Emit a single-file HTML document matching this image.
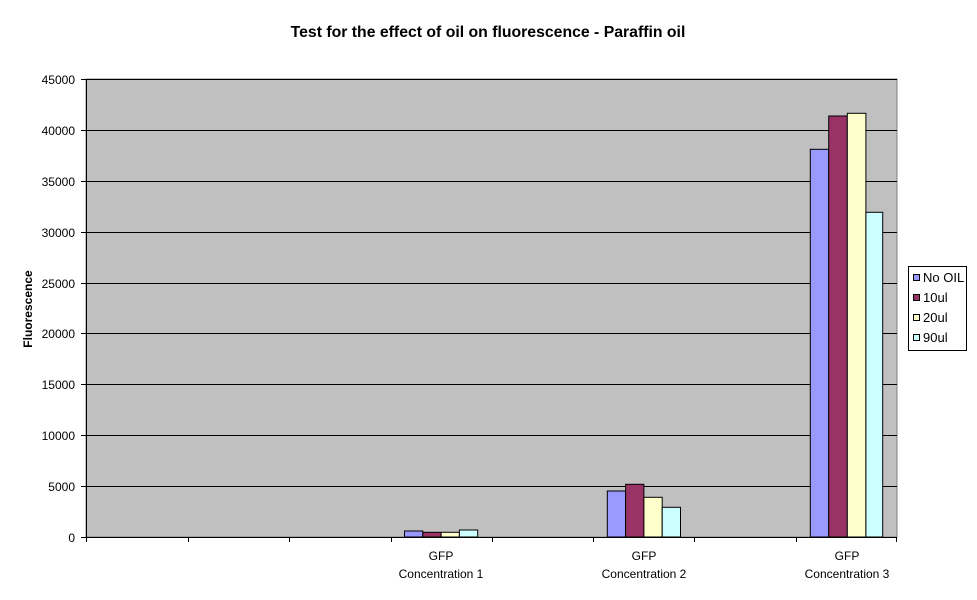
<!DOCTYPE html>
<html><head><meta charset="utf-8"><style>
html,body{margin:0;padding:0;background:#fff;}
svg{display:block;font-family:"Liberation Sans",Arial,sans-serif;}
</style></head><body>
<svg width="977" height="600" viewBox="0 0 977 600" xmlns="http://www.w3.org/2000/svg">
<rect width="977" height="600" fill="#fff"/>
<text x="488" y="37" text-anchor="middle" font-size="15.8" font-weight="bold">Test for the effect of oil on fluorescence - Paraffin oil</text>
<rect x="86" y="79" width="811" height="458" fill="#c0c0c0" stroke="#808080" stroke-width="1"/>
<g stroke="#000" stroke-width="1">
<line x1="86" y1="79.5" x2="897" y2="79.5"/>
<line x1="86" y1="130.5" x2="897" y2="130.5"/>
<line x1="86" y1="181.5" x2="897" y2="181.5"/>
<line x1="86" y1="232.5" x2="897" y2="232.5"/>
<line x1="86" y1="283.5" x2="897" y2="283.5"/>
<line x1="86" y1="333.5" x2="897" y2="333.5"/>
<line x1="86" y1="384.5" x2="897" y2="384.5"/>
<line x1="86" y1="435.5" x2="897" y2="435.5"/>
<line x1="86" y1="486.5" x2="897" y2="486.5"/>
</g>
<g stroke="#000" stroke-width="1">
<rect x="404.5" y="531" width="18.3" height="6" fill="#9999ff"/>
<rect x="422.8" y="532.3" width="18.3" height="4.7" fill="#993366"/>
<rect x="441.1" y="532.3" width="18.3" height="4.7" fill="#ffffcc"/>
<rect x="459.4" y="530" width="18.3" height="7" fill="#ccffff"/>
<rect x="607.3" y="491" width="18.3" height="46" fill="#9999ff"/>
<rect x="625.6" y="484.3" width="18.3" height="52.7" fill="#993366"/>
<rect x="643.9" y="497.3" width="18.3" height="39.7" fill="#ffffcc"/>
<rect x="662.2" y="507.3" width="18.3" height="29.7" fill="#ccffff"/>
<rect x="810.3" y="149.3" width="18.4" height="387.7" fill="#9999ff"/>
<rect x="828.7" y="116" width="18.6" height="421" fill="#993366"/>
<rect x="847.3" y="113.3" width="18.6" height="423.7" fill="#ffffcc"/>
<rect x="865.9" y="212.3" width="16.8" height="324.7" fill="#ccffff"/>
</g>
<g stroke="#000" stroke-width="1">
<line x1="86.5" y1="79" x2="86.5" y2="537"/>
<line x1="86" y1="537.5" x2="897" y2="537.5"/>
<line x1="81" y1="79.5" x2="86" y2="79.5"/>
<line x1="81" y1="130.5" x2="86" y2="130.5"/>
<line x1="81" y1="181.5" x2="86" y2="181.5"/>
<line x1="81" y1="232.5" x2="86" y2="232.5"/>
<line x1="81" y1="283.5" x2="86" y2="283.5"/>
<line x1="81" y1="333.5" x2="86" y2="333.5"/>
<line x1="81" y1="384.5" x2="86" y2="384.5"/>
<line x1="81" y1="435.5" x2="86" y2="435.5"/>
<line x1="81" y1="486.5" x2="86" y2="486.5"/>
<line x1="81" y1="537.5" x2="86" y2="537.5"/>
<line x1="86.5" y1="537" x2="86.5" y2="542"/>
<line x1="188.5" y1="537" x2="188.5" y2="542"/>
<line x1="289.5" y1="537" x2="289.5" y2="542"/>
<line x1="391.5" y1="537" x2="391.5" y2="542"/>
<line x1="492.5" y1="537" x2="492.5" y2="542"/>
<line x1="593.5" y1="537" x2="593.5" y2="542"/>
<line x1="694.5" y1="537" x2="694.5" y2="542"/>
<line x1="796.5" y1="537" x2="796.5" y2="542"/>
<line x1="896.5" y1="537" x2="896.5" y2="542"/>
</g>
<g font-size="12" text-anchor="end">
<text x="75" y="84">45000</text>
<text x="75" y="135">40000</text>
<text x="75" y="186">35000</text>
<text x="75" y="237">30000</text>
<text x="75" y="288">25000</text>
<text x="75" y="338">20000</text>
<text x="75" y="389">15000</text>
<text x="75" y="440">10000</text>
<text x="75" y="491">5000</text>
<text x="75" y="542">0</text>
</g>
<g font-size="12" text-anchor="middle">
<text x="441" y="560">GFP</text><text x="441" y="578">Concentration 1</text>
<text x="644" y="560">GFP</text><text x="644" y="578">Concentration 2</text>
<text x="847" y="560">GFP</text><text x="847" y="578">Concentration 3</text>
</g>
<text transform="translate(32,309) rotate(-90)" text-anchor="middle" font-size="12" font-weight="bold">Fluorescence</text>
<rect x="908.5" y="266.5" width="58" height="84" fill="#fff" stroke="#000"/>
<g stroke="#000" stroke-width="1">
<rect x="913.5" y="274.5" width="6" height="6" fill="#9999ff"/>
<rect x="913.5" y="294.5" width="6" height="6" fill="#993366"/>
<rect x="913.5" y="314.5" width="6" height="6" fill="#ffffcc"/>
<rect x="913.5" y="334.5" width="6" height="6" fill="#ccffff"/>
</g>
<g font-size="13">
<text x="923" y="282">No OIL</text>
<text x="923" y="302">10ul</text>
<text x="923" y="322">20ul</text>
<text x="923" y="342">90ul</text>
</g>
</svg>
</body></html>
